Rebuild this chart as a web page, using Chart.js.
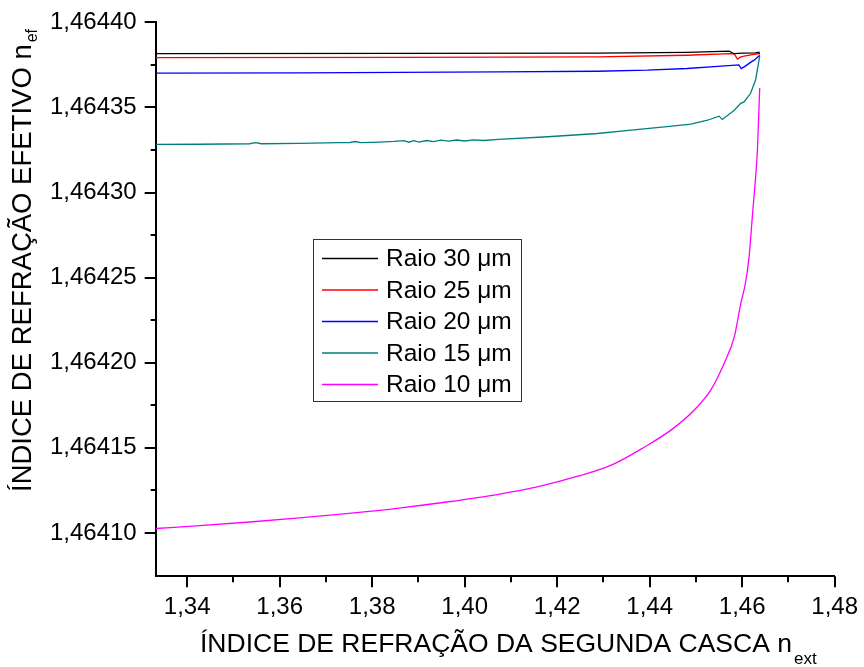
<!DOCTYPE html>
<html lang="pt">
<head>
<meta charset="UTF-8">
<title>Índice de refração efetivo</title>
<script src="https://cdn.jsdelivr.net/npm/chart.js"></script>
<style>
  html, body { margin: 0; padding: 0; background: #fff; }
  canvas { display: block; }
</style>
</head>
<body>
<canvas id="chart" width="864" height="667"></canvas>
<script>
// ---- data: n_ext (x) against n_ef (y), one pair of arrays per radius ----
const seriesNames = ['Raio 30 μm', 'Raio 25 μm', 'Raio 20 μm', 'Raio 15 μm', 'Raio 10 μm'];
const seriesColors = ['#000000', '#ff0000', '#0000ff', '#008080', '#ff00ff'];

const r30X = [1.3332, 1.3858, 1.4287, 1.4481, 1.4572, 1.4583, 1.4601, 1.4629, 1.4636, 1.4638];
const r30Y = [1.4643817, 1.4643818, 1.4643820, 1.4643824, 1.4643831, 1.4643816, 1.4643819, 1.4643821, 1.4643825, 1.4643816];

const r25X = [1.3332, 1.3858, 1.4287, 1.4481, 1.4575, 1.4583, 1.4590, 1.4596, 1.4604, 1.4622, 1.4636, 1.4638];
const r25Y = [1.4643793, 1.4643794, 1.4643797, 1.4643807, 1.4643816, 1.4643813, 1.4643784, 1.4643796, 1.4643802, 1.4643810, 1.4643817, 1.4643813];

const r20X = [1.3332, 1.3643, 1.3858, 1.4073, 1.4287, 1.4395, 1.4481, 1.4547, 1.4593, 1.4598, 1.4607, 1.4618, 1.4626, 1.4638];
const r20Y = [1.4643702, 1.4643703, 1.4643706, 1.4643709, 1.4643713, 1.4643719, 1.4643729, 1.4643741, 1.4643750, 1.4643729, 1.4643743, 1.4643765, 1.4643778, 1.4643807];

const r15X = [1.33320, 1.34273, 1.35350, 1.35479, 1.35608, 1.36426, 1.37287, 1.37502, 1.37631, 1.37760, 1.38148, 1.38470,
              1.38686, 1.38793, 1.38901, 1.39009, 1.39181, 1.39332, 1.39482, 1.39654, 1.39827, 1.39999, 1.40192, 1.40408, 1.40731,
              1.4180, 1.4287, 1.4360, 1.4432, 1.4489, 1.4525, 1.4550, 1.4557, 1.4583, 1.4597, 1.4604, 1.4618, 1.4629, 1.4638];
const r15Y = [1.4643283, 1.4643284, 1.4643287, 1.4643293, 1.4643287, 1.4643289, 1.4643293, 1.4643294, 1.4643300, 1.4643294, 1.4643297, 1.4643301,
              1.4643305, 1.4643296, 1.4643305, 1.4643297, 1.4643306, 1.4643299, 1.4643308, 1.4643302, 1.4643309, 1.4643303, 1.4643310, 1.4643306, 1.4643312,
              1.4643328, 1.4643347, 1.4643367, 1.4643386, 1.4643402, 1.4643425, 1.4643449, 1.4643430, 1.4643484, 1.4643524, 1.4643533, 1.4643582, 1.4643661, 1.4643802];

const r10X = [1.3332, 1.3427, 1.3535, 1.3643, 1.3750, 1.3858, 1.3965, 1.4073, 1.4159, 1.4245, 1.4317, 1.4389,
              1.4446, 1.4496, 1.4532, 1.4561, 1.4583, 1.4597, 1.4607, 1.4615, 1.4622, 1.4628, 1.4633, 1.4638];
const r10Y = [1.4641026, 1.4641043, 1.4641064, 1.4641088, 1.4641115, 1.4641146, 1.4641183, 1.4641227, 1.4641272, 1.4641333, 1.4641398, 1.4641505,
              1.4641604, 1.4641721, 1.4641839, 1.4641996, 1.4642152, 1.4642348, 1.4642466, 1.4642622, 1.4642857, 1.4643053, 1.4643249, 1.4643615];

const xMajorTicks = [1.34, 1.36, 1.38, 1.40, 1.42, 1.44, 1.46, 1.48];
const xMinorTicks = [1.35, 1.37, 1.39, 1.41, 1.43, 1.45, 1.47];
const yMajorTicks = [1.46410, 1.46415, 1.46420, 1.46425, 1.46430, 1.46435, 1.46440];
const yMinorTicks = [1.464125, 1.464175, 1.464225, 1.464275, 1.464325, 1.464375];

const xTitle = 'ÍNDICE DE REFRAÇÃO DA SEGUNDA CASCA n';
const xTitleSub = 'ext';
const yTitle = 'ÍNDICE DE REFRAÇÃO EFETIVO n';
const yTitleSub = 'ef';

const NARROW = "'Liberation Sans Narrow', 'Arial Narrow', 'Liberation Sans', sans-serif";
const SANS = "'Liberation Sans', Arial, sans-serif";

function toPoints(xs, ys) {
    return xs.map((x, i) => ({ x: x, y: ys[i] }));
}
const allX = [r30X, r25X, r20X, r15X, r10X];
const allY = [r30Y, r25Y, r20Y, r15Y, r10Y];

const datasets = seriesNames.map((name, i) => ({
    label: name,
    data: toPoints(allX[i], allY[i]),
    borderColor: seriesColors[i],
    borderWidth: 1.3,
    pointRadius: 0,
    showLine: true,
    fill: false,
    tension: 0,
    cubicInterpolationMode: i === 4 ? 'monotone' : 'default'
}));

// major / minor tick marks drawn outside the plot
const tickMarks = {
    id: 'tickMarks',
    afterDraw(chart) {
        const ctx = chart.ctx;
        const xs = chart.scales.x, ys = chart.scales.y;
        const area = chart.chartArea;
        ctx.save();
        ctx.strokeStyle = '#000';
        ctx.lineWidth = 2;
        ctx.beginPath();
        xMajorTicks.forEach(v => { const p = Math.round(xs.getPixelForValue(v)); ctx.moveTo(p, area.bottom); ctx.lineTo(p, area.bottom + 11); });
        xMinorTicks.forEach(v => { const p = Math.round(xs.getPixelForValue(v)); ctx.moveTo(p, area.bottom); ctx.lineTo(p, area.bottom + 6); });
        yMajorTicks.forEach(v => { const p = Math.round(ys.getPixelForValue(v)); ctx.moveTo(area.left, p); ctx.lineTo(area.left - 11, p); });
        yMinorTicks.forEach(v => { const p = Math.round(ys.getPixelForValue(v)); ctx.moveTo(area.left, p); ctx.lineTo(area.left - 5, p); });
        ctx.stroke();
        ctx.restore();
    }
};

// axis titles with subscripts
const axisTitles = {
    id: 'axisTitles',
    afterDraw(chart) {
        const ctx = chart.ctx;
        ctx.save();
        ctx.fillStyle = '#000';
        ctx.textBaseline = 'alphabetic';
        ctx.textAlign = 'left';

        // x title
        ctx.font = '26.5px ' + NARROW;
        let w = ctx.measureText(xTitle).width;
        ctx.fillText(xTitle, 200, 652);
        ctx.font = '17px ' + NARROW;
        ctx.fillText(xTitleSub, 200 + w + 2, 664);

        // y title (rotated)
        ctx.translate(31, 492);
        ctx.rotate(-Math.PI / 2);
        ctx.font = '27.5px ' + SANS;
        w = ctx.measureText(yTitle).width;
        ctx.fillText(yTitle, 0, 0);
        ctx.font = '16px ' + SANS;
        ctx.fillText(yTitleSub, w + 2, 6);
        ctx.restore();
    }
};

// boxed legend inside the plot
const boxLegend = {
    id: 'boxLegend',
    afterDraw(chart) {
        const ctx = chart.ctx;
        const left = 313, top = 239, right = 521, bottom = 401;
        ctx.save();
        ctx.fillStyle = '#fff';
        ctx.fillRect(left, top, right - left, bottom - top);
        ctx.strokeStyle = '#333';
        ctx.lineWidth = 1;
        ctx.strokeRect(left + 0.5, top + 0.5, right - left, bottom - top);
        ctx.font = '24.5px ' + SANS;
        ctx.textBaseline = 'middle';
        ctx.textAlign = 'left';
        chart.data.datasets.forEach((ds, i) => {
            const y = 258.5 + i * 31.5;
            ctx.strokeStyle = ds.borderColor;
            ctx.lineWidth = 1.3;
            ctx.beginPath();
            ctx.moveTo(322, y);
            ctx.lineTo(378, y);
            ctx.stroke();
            ctx.fillStyle = '#000';
            ctx.fillText(ds.label, 386, y + 1);
        });
        ctx.restore();
    }
};

new Chart(document.getElementById('chart'), {
    type: 'scatter',
    data: { datasets: datasets },
    options: {
        responsive: false,
        animation: false,
        layout: { padding: { top: 22, right: 26, left: 0, bottom: 0 } },
        plugins: { legend: { display: false }, tooltip: { enabled: false } },
        scales: {
            x: {
                type: 'linear',
                min: 1.3332,
                max: 1.48,
                afterBuildTicks: s => { s.ticks = xMajorTicks.map(v => ({ value: v })); },
                afterFit: s => { s.height = 90.7; },
                grid: { display: false, drawTicks: true, tickLength: 11 },
                border: { display: true, color: '#000', width: 2 },
                ticks: {
                    color: '#000',
                    padding: 6,
                    maxRotation: 0,
                    autoSkip: false,
                    font: { family: NARROW, size: 24 },
                    callback: v => v.toFixed(2).replace('.', ',')
                }
            },
            y: {
                type: 'linear',
                min: 1.4640745,
                max: 1.4644,
                afterBuildTicks: s => { s.ticks = yMajorTicks.map(v => ({ value: v })); },
                afterFit: s => { s.width = 155.7; },
                grid: { display: false, drawTicks: true, tickLength: 11 },
                border: { display: true, color: '#000', width: 2 },
                ticks: {
                    color: '#000',
                    padding: 8,
                    autoSkip: false,
                    font: { family: SANS, size: 24 },
                    callback: v => v.toFixed(5).replace('.', ',')
                }
            }
        }
    },
    plugins: [tickMarks, axisTitles, boxLegend]
});
</script>
</body>
</html>
